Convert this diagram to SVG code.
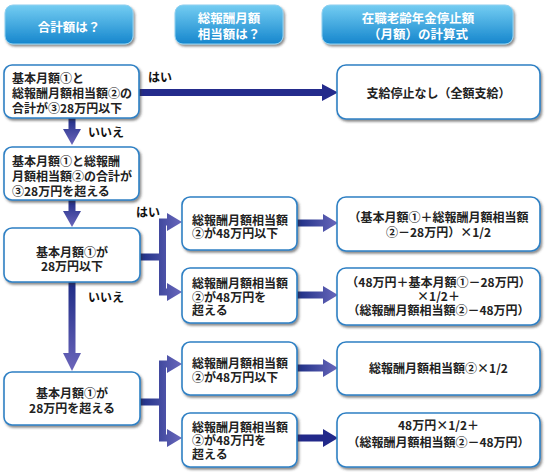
<svg xmlns="http://www.w3.org/2000/svg" width="549" height="475" viewBox="0 0 549 475">
<style>
.hd{fill:url(#hg);stroke:#8fd0f0;stroke-width:1;filter:url(#sh)}
.bx{fill:#fff;stroke:#2f80c4;stroke-width:1.6;filter:url(#sh)}
.ht{font-family:"Noto Sans CJK JP","Noto Sans",sans-serif;font-weight:bold;font-size:12.5px;fill:#fff;text-anchor:middle}
.t{font-family:"Noto Sans CJK JP","Noto Sans",sans-serif;font-weight:bold;font-size:12px;fill:#222}
.c{text-anchor:middle}
.lb{font-family:"Noto Sans CJK JP","Noto Sans",sans-serif;font-weight:bold;font-size:12px;fill:#111}
</style>
<defs>
<linearGradient id="hg" x1="0" y1="0" x2="0" y2="1"><stop offset="0" stop-color="#74cdf2"/><stop offset="1" stop-color="#1586cd"/></linearGradient>
<linearGradient id="dv" x1="0" y1="0" x2="0" y2="1"><stop offset="0" stop-color="#1e2c86"/><stop offset="1" stop-color="#6c66bb"/></linearGradient>
<linearGradient id="rh" x1="0" y1="0" x2="1" y2="0"><stop offset="0" stop-color="#1e2f86"/><stop offset="1" stop-color="#6a68bc"/></linearGradient>
<filter id="sh" x="-10%" y="-10%" width="130%" height="140%"><feDropShadow dx="1.5" dy="2" stdDeviation="1" flood-color="#333" flood-opacity="0.55"/></filter>
</defs>

<g id="headers">
<g id="h1"><rect class="hd" x="5" y="5" width="128" height="39" rx="8"/><text class="ht" x="69" y="31.5">合計額は？</text></g>
<g id="h2"><rect class="hd" x="175" y="5" width="108" height="39" rx="8"/><text class="ht" y="23"><tspan x="229">総報酬月額</tspan><tspan x="229" dy="15.5">相当額は？</tspan></text></g>
<g id="h3"><rect class="hd" x="322" y="5" width="191" height="39" rx="8"/><text class="ht" y="23"><tspan x="418">在職老齢年金停止額</tspan><tspan x="418" dy="15.5">（月額）の計算式</tspan></text></g>
</g>

<g id="connectors">
<polygon fill="#242b8c" points="139,89 322,89 322,84 338,92.5 322,101 322,96 139,96"/>
<polygon fill="url(#dv)" points="68.5,118 75.5,118 75.5,129 81,129 72,145 63,129 68.5,129"/>
<polygon fill="url(#dv)" points="68.5,200 75.5,200 75.5,211 81,211 72,227 63,211 68.5,211"/>
<polygon fill="url(#dv)" points="68.5,282 75.5,282 75.5,353 81,353 72,371 63,353 68.5,353"/>
<polygon fill="url(#rh)" points="140,253.5 159,253.5 159,218.5 167,218.5 167,213 182,222 167,231 167,225.5 166,225.5 166,288.5 167,288.5 167,283 182,292 167,301 167,295.5 159,295.5 159,260.5 140,260.5"/>
<polygon fill="url(#rh)" points="140,398.5 159,398.5 159,360.5 167,360.5 167,355 182,364 167,373 167,367.5 166,367.5 166,434.5 167,434.5 167,429 182,438 167,447 167,441.5 159,441.5 159,405.5 140,405.5"/>
<polygon fill="url(#rh)" points="297,219.5 323,219.5 323,214 338,223 323,232 323,226.5 297,226.5"/>
<polygon fill="url(#rh)" points="297,291.5 323,291.5 323,286 338,295 323,304 323,298.5 297,298.5"/>
<polygon fill="url(#rh)" points="297,364.5 323,364.5 323,359 338,368 323,377 323,371.5 297,371.5"/>
<polygon fill="#22298a" points="297,434.5 323,434.5 323,429 338,438 323,447 323,441.5 297,441.5"/>
<text class="lb" x="148" y="82">はい</text>
<text class="lb" x="88" y="137">いいえ</text>
<text class="lb" x="136" y="217">はい</text>
<text class="lb" x="88" y="302">いいえ</text>
</g>

<g id="n1"><rect class="bx" x="4" y="65" width="135" height="53" rx="8"/>
<text class="t" y="83"><tspan x="12">基本月額①と</tspan><tspan x="12" dy="15">総報酬月額相当額②の</tspan><tspan x="12" dy="15">合計が③28万円以下</tspan></text></g>
<g id="n2"><rect class="bx" x="4" y="147" width="135" height="53" rx="8"/>
<text class="t" y="166"><tspan x="12">基本月額①と総報酬</tspan><tspan x="12" dy="15">月額相当額②の合計が</tspan><tspan x="12" dy="15">③28万円を超える</tspan></text></g>
<g id="n3"><rect class="bx" x="4" y="228" width="136" height="54" rx="8"/>
<text class="t c" y="257"><tspan x="72">基本月額①が</tspan><tspan x="72" dy="13.5">28万円以下</tspan></text></g>
<g id="n4"><rect class="bx" x="4" y="372" width="136" height="53" rx="8"/>
<text class="t c" y="397.5"><tspan x="72">基本月額①が</tspan><tspan x="72" dy="15">28万円を超える</tspan></text></g>

<g id="a1"><rect class="bx" x="182" y="197" width="115" height="53" rx="8"/>
<text class="t" y="224.5"><tspan x="192">総報酬月額相当額</tspan><tspan x="192" dy="13.5">②が48万円以下</tspan></text></g>
<g id="a2"><rect class="bx" x="182" y="268" width="115" height="55" rx="8"/>
<text class="t" y="288"><tspan x="192">総報酬月額相当額</tspan><tspan x="192" dy="13.5">②が48万円を</tspan><tspan x="192" dy="13.5">超える</tspan></text></g>
<g id="b1"><rect class="bx" x="182" y="342" width="115" height="53" rx="8"/>
<text class="t" y="367.5"><tspan x="192">総報酬月額相当額</tspan><tspan x="192" dy="14">②が48万円以下</tspan></text></g>
<g id="b2"><rect class="bx" x="182" y="413" width="115" height="54" rx="8"/>
<text class="t" y="431.5"><tspan x="192">総報酬月額相当額</tspan><tspan x="192" dy="13.5">②が48万円を</tspan><tspan x="192" dy="13.5">超える</tspan></text></g>

<g id="r0"><rect class="bx" x="337" y="65" width="203" height="54" rx="9"/>
<text class="t c" x="438.5" y="97.5">支給停止なし（全額支給）</text></g>
<g id="r1"><rect class="bx" x="337" y="197" width="203" height="54" rx="9"/>
<text class="t c" y="221.5"><tspan x="438.5">（基本月額①＋総報酬月額相当額</tspan><tspan x="438.5" dy="15">②－28万円）×1/2</tspan></text></g>
<g id="r2"><rect class="bx" x="337" y="268" width="203" height="57" rx="9"/>
<text class="t c" y="286.5"><tspan x="438.5">（48万円＋基本月額①－28万円）</tspan><tspan x="438.5" dy="14">×1/2＋</tspan><tspan x="438.5" dy="14.5">（総報酬月額相当額②－48万円）</tspan></text></g>
<g id="r3"><rect class="bx" x="337" y="342" width="203" height="53" rx="9"/>
<text class="t c" x="438.5" y="373">総報酬月額相当額②×1/2</text></g>
<g id="r4"><rect class="bx" x="337" y="413" width="203" height="54" rx="9"/>
<text class="t c" y="430"><tspan x="438.5">48万円×1/2＋</tspan><tspan x="438.5" dy="16.5">（総報酬月額相当額②－48万円）</tspan></text></g>
</svg>
